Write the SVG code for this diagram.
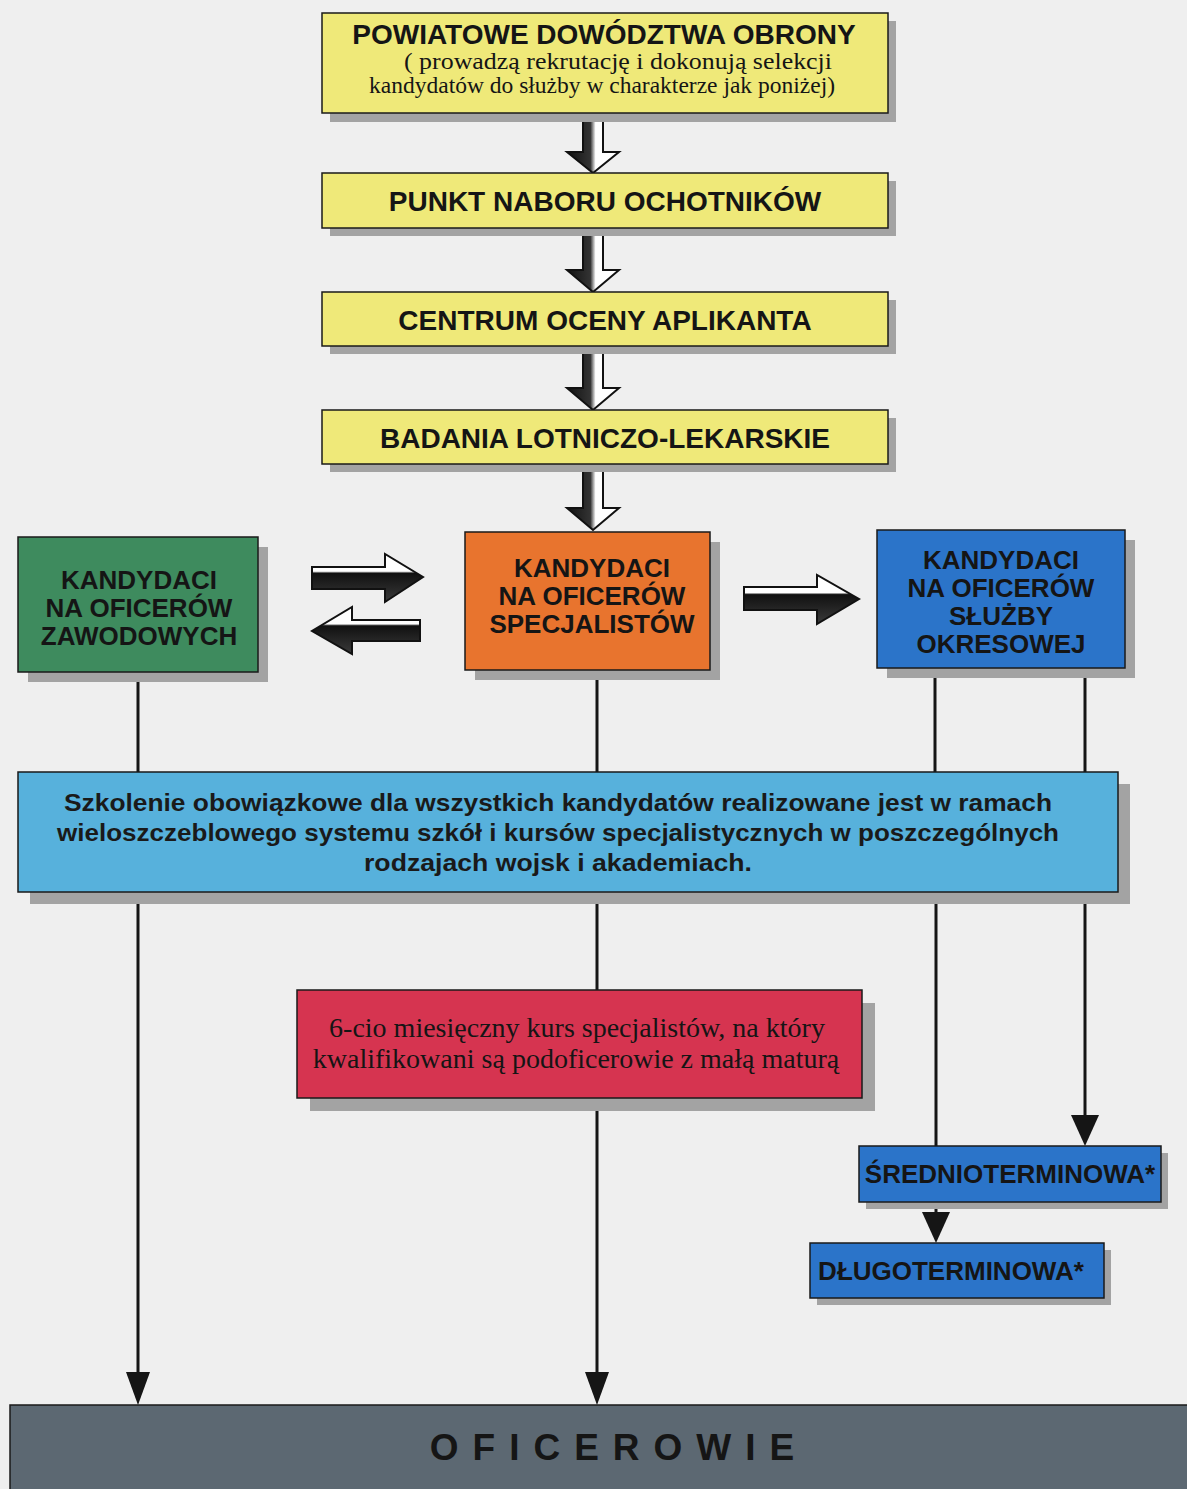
<svg xmlns="http://www.w3.org/2000/svg" width="1187" height="1489" viewBox="0 0 1187 1489">
  <defs>
    <style>
      .box { stroke: #1a1a1a; stroke-width: 1.5; }
      .shadow { fill: #a3a3a3; }
      .yellow { fill: #efe979; }
      .green { fill: #3e8b5e; }
      .orange { fill: #e8742e; }
      .blue { fill: #2b74c9; }
      .lblue { fill: #57b1dc; }
      .red { fill: #d63450; }
      .slate { fill: #5c6872; }
      .hd { font-family: "Liberation Sans", Arial, sans-serif; font-weight: bold; fill: #151515; text-anchor: middle; }
      .sr { font-family: "Liberation Serif", "Times New Roman", serif; fill: #151515; text-anchor: middle; }
      .sn { font-family: "Liberation Sans", Arial, sans-serif; font-weight: bold; fill: #1a1a1a; text-anchor: middle; }
      .line { stroke: #151515; stroke-width: 3; fill: none; }
      .blk { stroke: #111; stroke-width: 2; stroke-linejoin: miter; }
    </style>
    <linearGradient id="gDown" x1="0" y1="0" x2="1" y2="0">
      <stop offset="0" stop-color="#111"/>
      <stop offset="0.45" stop-color="#333"/>
      <stop offset="0.55" stop-color="#fff"/>
      <stop offset="1" stop-color="#fff"/>
    </linearGradient>
    <!-- sideways block arrows: light upper band, dark body -->
    <linearGradient id="gR1" gradientUnits="userSpaceOnUse" x1="0" y1="554" x2="0" y2="602">
      <stop offset="0" stop-color="#fff"/>
      <stop offset="0.36" stop-color="#fff"/>
      <stop offset="0.40" stop-color="#111"/>
      <stop offset="1" stop-color="#3a3a3a"/>
    </linearGradient>
    <linearGradient id="gL1" gradientUnits="userSpaceOnUse" x1="0" y1="607" x2="0" y2="654">
      <stop offset="0" stop-color="#fff"/>
      <stop offset="0.36" stop-color="#fff"/>
      <stop offset="0.40" stop-color="#111"/>
      <stop offset="1" stop-color="#3a3a3a"/>
    </linearGradient>
    <linearGradient id="gR2" gradientUnits="userSpaceOnUse" x1="0" y1="575" x2="0" y2="624">
      <stop offset="0" stop-color="#fff"/>
      <stop offset="0.36" stop-color="#fff"/>
      <stop offset="0.40" stop-color="#111"/>
      <stop offset="1" stop-color="#3a3a3a"/>
    </linearGradient>
  </defs>

  <!-- paper -->
  <rect x="0" y="0" width="1187" height="1489" fill="#efefef"/>

  <!-- connectors -->
  <g id="connectors">
    <!-- hollow block arrows down the main column -->
    <path class="blk" fill="url(#gDown)" d="M583,113 H603 V152 H619 L593,173 L567,152 H583 Z"/>
    <path class="blk" fill="url(#gDown)" d="M583,228 H603 V270 H619 L593,292 L567,270 H583 Z"/>
    <path class="blk" fill="url(#gDown)" d="M583,346 H603 V388 H619 L593,410 L567,388 H583 Z"/>
    <path class="blk" fill="url(#gDown)" d="M583,464 H603 V508 H619 L593,530 L567,508 H583 Z"/>

    <!-- horizontal block arrows -->
    <path class="blk" fill="url(#gR1)" d="M312,567 H385 V554 L423,577 L385,602 V589 H312 Z"/>
    <path class="blk" fill="url(#gL1)" d="M420,620 H352 V607 L312,631 L352,654 V641 H420 Z"/>
    <path class="blk" fill="url(#gR2)" d="M744,587 H817 V575 L859,599 L817,624 V610 H744 Z"/>

    <!-- thin lines into the common training box -->
    <line class="line" x1="138" y1="672" x2="138" y2="772"/>
    <line class="line" x1="597" y1="670" x2="597" y2="772"/>
    <line class="line" x1="935" y1="668" x2="935" y2="772"/>
    <line class="line" x1="1085" y1="668" x2="1085" y2="772"/>

    <!-- lines out of the training box -->
    <line class="line" x1="138" y1="892" x2="138" y2="1375"/>
    <path d="M126,1372 H150 L138,1405 Z" fill="#151515"/>
    <line class="line" x1="597" y1="892" x2="597" y2="990"/>
    <line class="line" x1="597" y1="1098" x2="597" y2="1375"/>
    <path d="M585,1372 H609 L597,1405 Z" fill="#151515"/>
    <line class="line" x1="936" y1="892" x2="936" y2="1146"/>
    <line class="line" x1="936" y1="1202" x2="936" y2="1215"/>
    <path d="M922,1212 H950 L936,1243 Z" fill="#151515"/>
    <line class="line" x1="1085" y1="892" x2="1085" y2="1118"/>
    <path d="M1071,1115 H1099 L1085,1146 Z" fill="#151515"/>
  </g>

  <!-- nodes -->
  <g id="node-pdo">
    <rect class="shadow" x="330" y="21" width="566" height="101"/>
    <rect class="box yellow" x="322" y="13" width="566" height="100"/>
    <text class="hd" x="604" y="44" font-size="28">POWIATOWE DOWÓDZTWA OBRONY</text>
    <text class="sr" x="618" y="69" font-size="24" textLength="428" lengthAdjust="spacingAndGlyphs">( prowadzą rekrutację i dokonują selekcji</text>
    <text class="sr" x="602" y="93" font-size="24" textLength="466" lengthAdjust="spacingAndGlyphs">kandydatów do służby w charakterze jak poniżej)</text>
  </g>

  <g id="node-punkt">
    <rect class="shadow" x="330" y="181" width="566" height="55"/>
    <rect class="box yellow" x="322" y="173" width="566" height="55"/>
    <text class="hd" x="605" y="211" font-size="28">PUNKT NABORU OCHOTNIKÓW</text>
  </g>

  <g id="node-centrum">
    <rect class="shadow" x="330" y="300" width="566" height="54"/>
    <rect class="box yellow" x="322" y="292" width="566" height="54"/>
    <text class="hd" x="605" y="330" font-size="28">CENTRUM OCENY APLIKANTA</text>
  </g>

  <g id="node-badania">
    <rect class="shadow" x="330" y="418" width="566" height="54"/>
    <rect class="box yellow" x="322" y="410" width="566" height="54"/>
    <text class="hd" x="605" y="448" font-size="28">BADANIA LOTNICZO-LEKARSKIE</text>
  </g>

  <g id="node-zawodowi">
    <rect class="shadow" x="28" y="547" width="240" height="135"/>
    <rect class="box green" x="18" y="537" width="240" height="135"/>
    <text class="hd" x="139" y="589" font-size="26">KANDYDACI</text>
    <text class="hd" x="139" y="617" font-size="26">NA OFICERÓW</text>
    <text class="hd" x="139" y="645" font-size="26">ZAWODOWYCH</text>
  </g>

  <g id="node-specjalisci">
    <rect class="shadow" x="475" y="542" width="245" height="138"/>
    <rect class="box orange" x="465" y="532" width="245" height="138"/>
    <text class="hd" x="592" y="577" font-size="26">KANDYDACI</text>
    <text class="hd" x="592" y="605" font-size="26">NA OFICERÓW</text>
    <text class="hd" x="592" y="633" font-size="26">SPECJALISTÓW</text>
  </g>

  <g id="node-okresowa">
    <rect class="shadow" x="887" y="540" width="248" height="138"/>
    <rect class="box blue" x="877" y="530" width="248" height="138"/>
    <text class="hd" x="1001" y="569" font-size="26">KANDYDACI</text>
    <text class="hd" x="1001" y="597" font-size="26">NA OFICERÓW</text>
    <text class="hd" x="1001" y="625" font-size="26">SŁUŻBY</text>
    <text class="hd" x="1001" y="653" font-size="26">OKRESOWEJ</text>
  </g>

  <g id="node-szkolenie">
    <rect class="shadow" x="30" y="784" width="1100" height="120"/>
    <rect class="box lblue" x="18" y="772" width="1100" height="120"/>
    <text class="sn" x="558" y="811" font-size="24" textLength="988" lengthAdjust="spacingAndGlyphs">Szkolenie obowiązkowe dla wszystkich kandydatów realizowane jest w ramach</text>
    <text class="sn" x="558" y="841" font-size="24" textLength="1002" lengthAdjust="spacingAndGlyphs">wieloszczeblowego systemu szkół i kursów specjalistycznych w poszczególnych</text>
    <text class="sn" x="558" y="871" font-size="24" textLength="388" lengthAdjust="spacingAndGlyphs">rodzajach wojsk i akademiach.</text>
  </g>

  <g id="node-kurs">
    <rect class="shadow" x="310" y="1003" width="565" height="108"/>
    <rect class="box red" x="297" y="990" width="565" height="108"/>
    <text class="sr" x="577" y="1037" font-size="28">6-cio miesięczny kurs specjalistów, na który</text>
    <text class="sr" x="576" y="1068" font-size="28">kwalifikowani są podoficerowie z małą maturą</text>
  </g>

  <g id="node-srednio">
    <rect class="shadow" x="866" y="1153" width="302" height="56"/>
    <rect class="box blue" x="859" y="1146" width="302" height="56"/>
    <text class="hd" x="1010" y="1183" font-size="26">ŚREDNIOTERMINOWA*</text>
  </g>

  <g id="node-dlugo">
    <rect class="shadow" x="817" y="1250" width="294" height="55"/>
    <rect class="box blue" x="810" y="1243" width="294" height="55"/>
    <text class="hd" x="951" y="1280" font-size="26">DŁUGOTERMINOWA*</text>
  </g>

  <g id="node-oficerowie">
    <rect class="box slate" x="10" y="1405" width="1190" height="100"/>
    <text class="hd" x="619" y="1460" font-size="37" letter-spacing="14">OFICEROWIE</text>
  </g>
</svg>
